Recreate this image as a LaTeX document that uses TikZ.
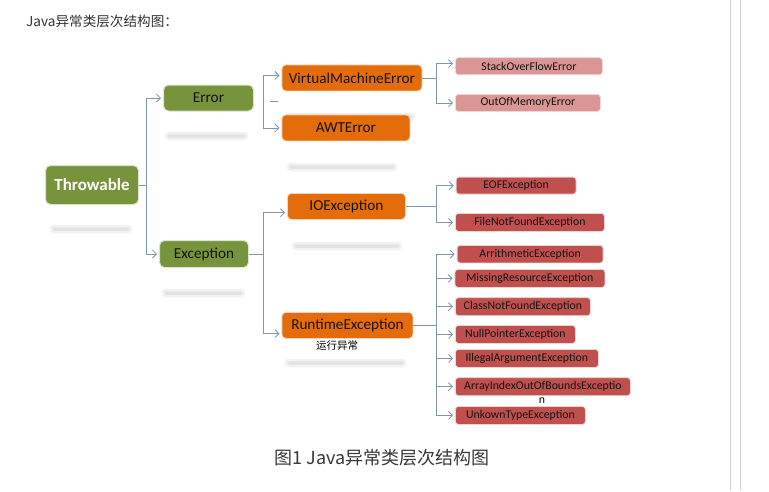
\documentclass[tikz,border=0pt]{standalone}
\usepackage{fontspec}
\setmainfont{Carlito}
\newfontfamily\cjk{Noto Sans CJK SC}
\usetikzlibrary{arrows}
\usetikzlibrary{arrows.meta}
\usetikzlibrary{calc}
\usetikzlibrary{positioning}

\definecolor{grn}{HTML}{77933C}
\definecolor{org}{HTML}{E46C0A}
\definecolor{pnk}{HTML}{D99694}
\definecolor{rd}{HTML}{C0504D}
\definecolor{linec}{HTML}{7F95AA}

\begin{document}
\begin{tikzpicture}[x=1pt,y=-1pt, >={Straight Barb[length=4pt,width=8pt]},
  boxbase/.style={anchor=north west, inner sep=0pt, text=black!92},
  cls/.style={boxbase, fill=grn, draw=grn!25, line width=1pt, rounded corners=5pt, font=\fontsize{15.2}{17}\selectfont},
  subbox/.style={boxbase, fill=org, draw=org!30, line width=0.8pt, rounded corners=4pt, font=\fontsize{15.2}{17}\selectfont, minimum height=26pt},
  leafbox/.style={boxbase, fill=rd, draw=rd!25, line width=0.8pt, rounded corners=3pt, font=\fontsize{11.8}{13}\selectfont, minimum height=18pt},
  leafp/.style={leafbox, fill=pnk, draw=pnk!40},
  refl/.style={fill=black!11, draw=black!5, line width=2.5pt, rounded corners=3pt},
  conn/.style={draw=linec, line width=0.8pt, shorten >=2pt}]
        \useasboundingbox[fill=white] (0,0) rectangle (769,491);
        \draw[black!17, line width=1pt] (730.5,0) -- (730.5,490);
        \draw[black!17, line width=1pt] (740.5,0) -- (740.5,490);

        % reflections under the boxes
        \fill[refl] (51,226) rectangle (131,232);
        \fill[refl] (166,133) rectangle (247,139);
        \fill[refl] (286,114) rectangle (414,120);
        \fill[refl] (288,164) rectangle (396,170);
        \fill[refl] (293,243) rectangle (401,249);
        \fill[refl] (163,290) rectangle (244,296);
        \fill[refl] (286,360) rectangle (405,366);

        \node[anchor=west, inner sep=0pt, text=black!80, font=\cjk\fontsize{13.6}{15}\selectfont] (title) at (26,21) {Java异常类层次结构图：};

        \node[cls, minimum width=93pt, minimum height=39pt, text=white, font=\fontsize{17}{19}\selectfont\bfseries] (thr) at (45,165) {Throwable};
        \node[cls, minimum width=90pt, minimum height=26pt] (err) at (163,84.5) {Error};
        \node[cls, minimum width=89pt, minimum height=27pt] (exc) at (159,240) {Exception};

        \node[subbox, minimum width=140pt] (vme) at (281.5,64.5) {VirtualMachineError};
        \node[subbox, minimum width=128pt] (awt) at (281.5,114.5) {AWTError};
        \node[subbox, minimum width=118pt] (ioe) at (287,193) {IOException};
        \node[subbox, minimum width=131pt] (rte) at (281.5,312) {RuntimeException};
        \node[inner sep=0pt, font=\cjk\fontsize{10.5}{12}\selectfont] (rtelbl) at (337,346) {运行异常};

        \node[leafp, minimum width=147pt, minimum height=17pt] (sof) at (455,57.3) {StackOverFlowError};
        \node[leafp, minimum width=145pt, minimum height=17pt] (oom) at (455,94) {OutOfMemoryError};
        \node[leafbox, minimum width=120pt, minimum height=17pt] (eof) at (455.7,176.7) {EOFException};
        \node[leafbox, minimum width=149pt] (fnf) at (455,213) {FileNotFoundException};
        \node[leafbox, minimum width=146pt, minimum height=17.5pt] (ari) at (456.7,245) {ArrithmeticException};
        \node[leafbox, minimum width=150pt] (mis) at (454.5,269) {MissingResourceException};
        \node[leafbox, minimum width=135pt] (cnf) at (455,297.3) {ClassNotFoundException};
        \node[leafbox, minimum width=120pt] (npe) at (455,325) {NullPointerException};
        \node[leafbox, minimum width=143pt] (iae) at (455,349) {IllegalArgumentException};
        \node[leafbox, minimum width=175pt] (aio) at (455,377.3) {ArrayIndexOutOfBoundsExceptio};
        \node[inner sep=0pt, font=\fontsize{11.8}{13}\selectfont] (aion) at (542,401) {n};
        \node[leafbox, minimum width=130pt] (ute) at (455,406) {UnkownTypeException};

        \node[inner sep=0pt, text=black!78, font=\cjk\fontsize{18}{21}\selectfont] (cap) at (382,457.5) {图1 Java异常类层次结构图};

        % connectors
        \draw[conn,->] (thr.east) -- ++(7.5,0) |- (err.west);
        \draw[conn,->] (thr.east) -- ++(7.5,0) |- (exc.west);

        \coordinate (errbr) at (263,101);
        \draw[conn,->] (errbr) |- ([yshift=2.5pt]vme.west);
        \draw[conn,->] (errbr) |- (awt.west);
        \draw[draw=linec, line width=0.8pt] (270,101) -- (278,101);

        \draw[conn,->] (exc.east) -- ++(14.7,0) |- ([yshift=-6.3pt]ioe.west);
        \draw[conn,->] (exc.east) -- ++(14.7,0) |- ([yshift=-8.3pt]rte.west);

        \draw[conn,->] (vme.east) -- ++(14.5,0) |- ([yshift=2.5pt]sof.west);
        \draw[conn,->] (vme.east) -- ++(14.5,0) |- (oom.west);

        \draw[conn,->] (ioe.east) -- ++(31,0) |- (eof.west);
        \draw[conn,->] (ioe.east) -- ++(31,0) |- (fnf.west);

        \foreach \leaf in {ari,mis,cnf,npe,iae,aio,ute}
            \draw[conn,->] (rte.east) -- ++(23.5,0) |- (\leaf.west);
\end{tikzpicture}
\end{document}
